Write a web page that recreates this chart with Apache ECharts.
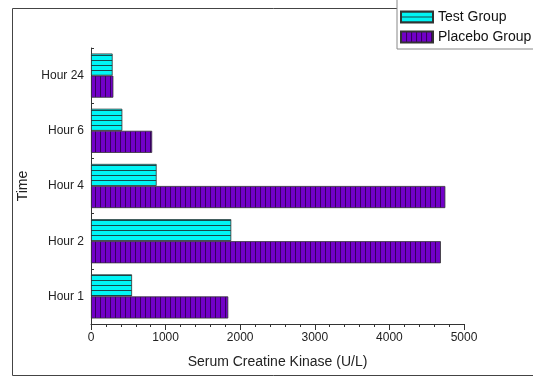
<!DOCTYPE html>
<html>
<head>
<meta charset="utf-8">
<script src="https://cdn.jsdelivr.net/npm/echarts@6/dist/echarts.min.js"></script>
<style>
  html, body { margin: 0; padding: 0; background: #fff; }
  #chart { width: 533px; height: 376px; }
</style>
</head>
<body>
<div id="chart"></div>
<script>
// Time points (bottom to top) and serum creatine kinase values (U/L)
const timePoints = ['Hour 1', 'Hour 2', 'Hour 4', 'Hour 6', 'Hour 24'];
const testGroup = [550, 1880, 880, 420, 290];
const placeboGroup = [1840, 4690, 4750, 820, 300];
const xTicks = [0, 1000, 2000, 3000, 4000, 5000];

// Hatch fills: horizontal lines on cyan, vertical lines on purple
function hatch(bg, line, horizontal, period) {
  const c = document.createElement('canvas');
  c.width = period; c.height = period;
  const ctx = c.getContext('2d');
  ctx.fillStyle = bg;
  ctx.fillRect(0, 0, period, period);
  ctx.fillStyle = line;
  if (horizontal) ctx.fillRect(0, 0, period, 1);
  else ctx.fillRect(0, 0, 1, period);
  return { image: c, repeat: 'repeat' };
}
const testFill = hatch('#00f5f5', '#18484c', true, 5);
const placeboFill = hatch('#7200c8', '#36005e', false, 5);

const chart = echarts.init(document.getElementById('chart'), null, { renderer: 'canvas' });
const font = 'Arial, "Liberation Sans", sans-serif';

chart.setOption({
  animation: false,
  backgroundColor: '#fff',
  graphic: [
    {
      type: 'rect', z: 0,
      shape: { x: 12.5, y: 8.5, width: 600, height: 367 },
      style: { fill: 'none', stroke: '#444', lineWidth: 1 }
    }
  ],
  legend: {
    left: 397, top: -2,
    orient: 'vertical',
    padding: [12, 20, 5, 3],
    itemGap: 6,
    itemWidth: 32, itemHeight: 11,
    icon: 'rect',
    backgroundColor: '#fff',
    borderColor: '#888', borderWidth: 1,
    textStyle: { fontFamily: font, fontSize: 14, color: '#111' },
    data: ['Test Group', 'Placebo Group']
  },
  grid: { left: 91, right: 69, top: 48, bottom: 52 },
  xAxis: {
    type: 'value',
    min: xTicks[0], max: xTicks[xTicks.length - 1], interval: 1000,
    name: 'Serum Creatine Kinase (U/L)',
    nameLocation: 'middle', nameGap: 31,
    nameTextStyle: { fontFamily: font, fontSize: 14, color: '#222' },
    axisLine: { show: true, lineStyle: { color: '#333', width: 1 } },
    axisTick: { show: true, inside: false, length: 6, lineStyle: { color: '#333' } },
    minorTick: { show: true, splitNumber: 5, length: 3, lineStyle: { color: '#333' } },
    axisLabel: {
      fontFamily: font, fontSize: 12, color: '#222', margin: 8,
      formatter: v => String(v)
    },
    splitLine: { show: false }
  },
  yAxis: {
    type: 'category',
    data: timePoints,
    name: 'Time',
    nameLocation: 'middle', nameGap: 61, nameRotate: 90,
    nameTextStyle: { fontFamily: font, fontSize: 14, color: '#222' },
    axisLine: { show: true, lineStyle: { color: '#333', width: 1 } },
    axisTick: { show: true, inside: true, length: 3, lineStyle: { color: '#333' } },
    axisLabel: { fontFamily: font, fontSize: 12, color: '#222', margin: 7 },
    splitLine: { show: false }
  },
  series: [
    {
      name: 'Test Group', type: 'bar', data: testGroup,
      barCategoryGap: '20%', barGap: '0%',
      itemStyle: { color: testFill, borderColor: '#333', borderWidth: 0.8 }
    },
    {
      name: 'Placebo Group', type: 'bar', data: placeboGroup,
      barCategoryGap: '20%', barGap: '0%',
      itemStyle: { color: placeboFill, borderColor: '#333', borderWidth: 0.8 }
    }
  ]
});
</script>
</body>
</html>
